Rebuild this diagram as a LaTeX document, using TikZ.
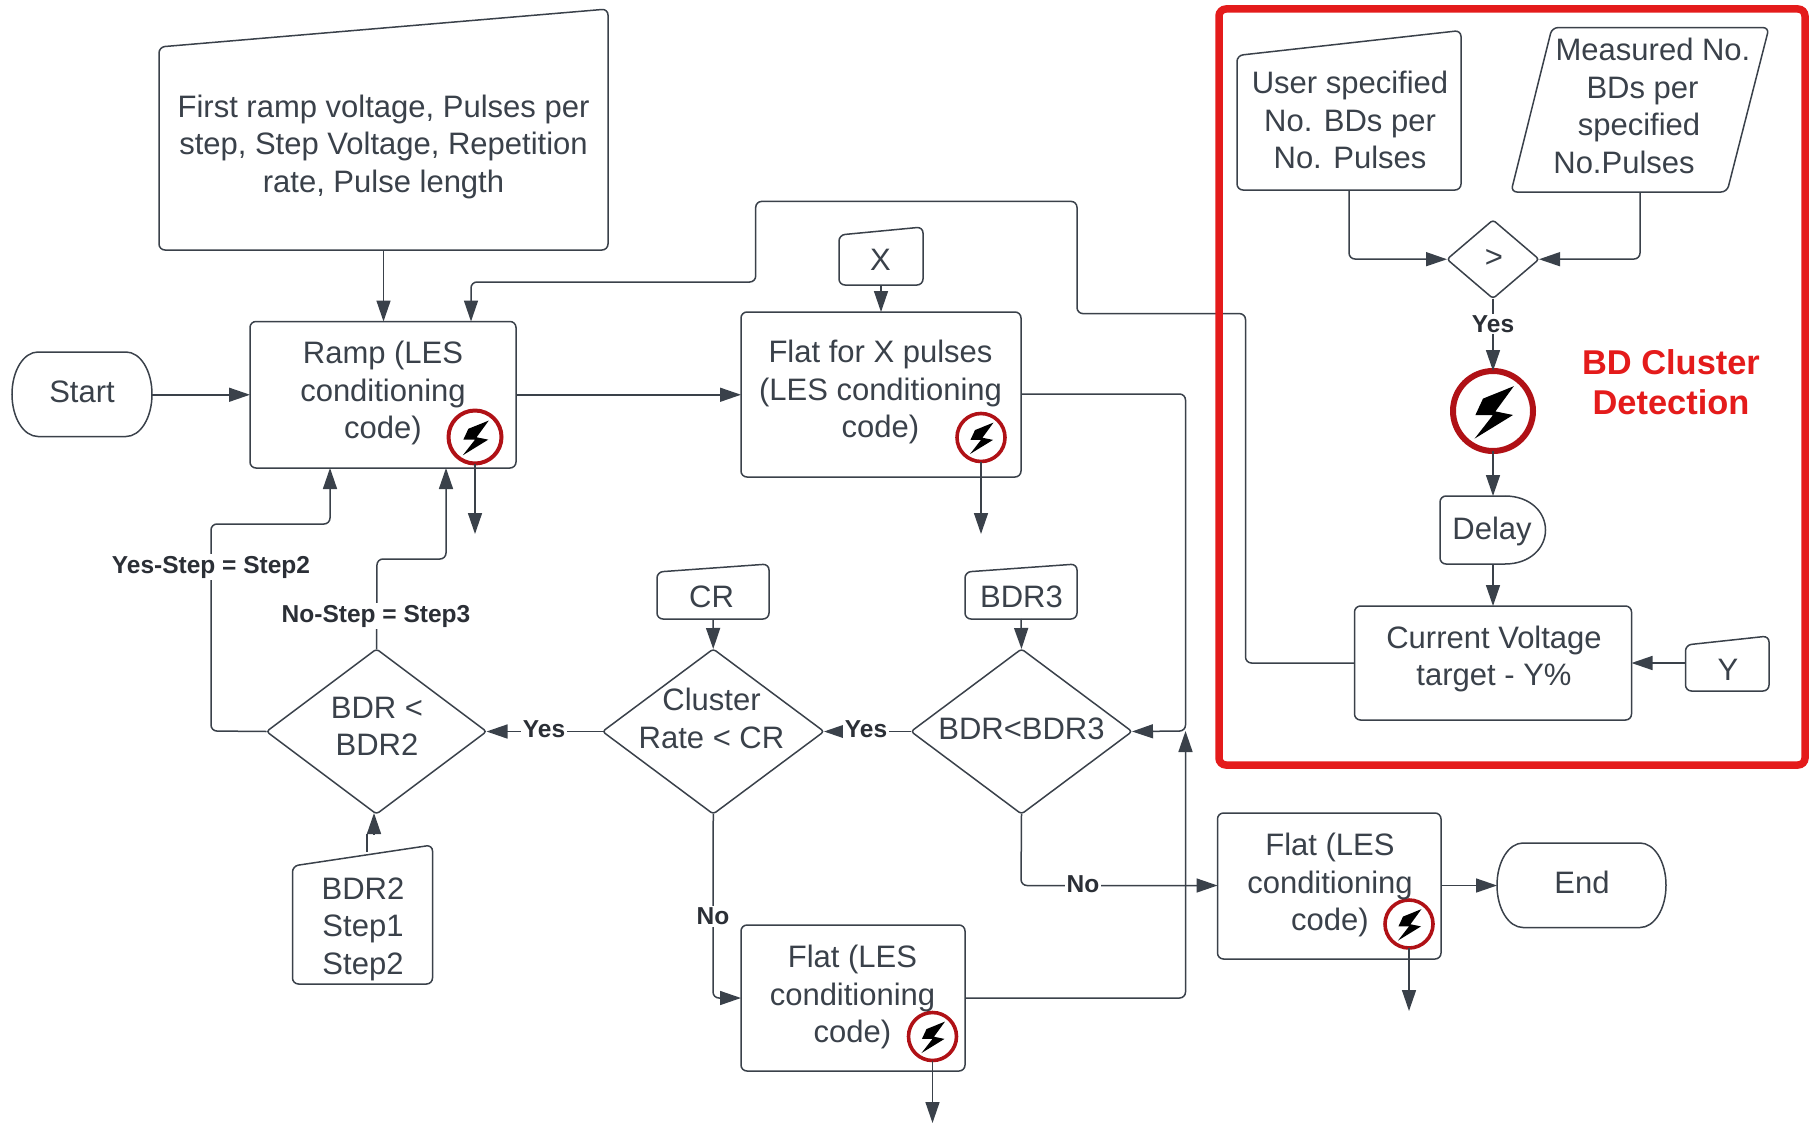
\documentclass[tikz,border=0pt]{standalone}
\usepackage{fontspec}
\setmainfont{Liberation Sans}
\usetikzlibrary{arrows.meta,calc}
\definecolor{ink}{HTML}{3A414A}
\definecolor{lab}{HTML}{2B2F36}
\definecolor{frame}{HTML}{E41B1B}
\definecolor{ringc}{HTML}{B01116}
\tikzset{
  shp/.style={draw=ink,line width=1.5pt,rounded corners=6pt,fill=white},
  conn/.style={draw=ink,line width=1.5pt,rounded corners=6pt},
  arr/.style={conn,-{Triangle[length=21pt,width=14pt]}},
  anchorbox/.style={rectangle,inner sep=0pt,outer sep=0pt},
  txt/.style={align=center,text=ink,inner sep=0pt,font=\fontsize{31}{37.5}\selectfont},
  lbl/.style={fill=white,text=lab,inner sep=1.5pt,font=\bfseries\fontsize{24.5}{29}\selectfont},
}
% name x1 y1 x2 y2 : invisible anchor box
\newcommand{\anch}[5]{%
  \pgfmathsetmacro{\axm}{(#2+#4)/2}\pgfmathsetmacro{\aym}{(#3+#5)/2}%
  \pgfmathsetmacro{\aw}{#4-#2}\pgfmathsetmacro{\ah}{#5-#3}%
  \node[anchorbox,minimum width=\aw pt,minimum height=\ah pt] (#1) at (\axm,\aym) {};}
\newcommand{\boxs}[5]{\anch{#1}{#2}{#3}{#4}{#5}\draw[shp] (#2,#3) rectangle (#4,#5);}
% name x1 yTopLeft x2 yTopRight yBottom
\newcommand{\manual}[6]{\anch{#1}{#2}{#5}{#4}{#6}%
  \draw[shp] (#2,#6) -- (#2,#3) -- (#4,#5) -- (#4,#6) -- cycle;}
\newcommand{\dia}[5]{\anch{#1}{#2}{#3}{#4}{#5}%
  \draw[shp,rounded corners=3pt] (#1.west) -- (#1.north) -- (#1.east) -- (#1.south) -- cycle;}
% terminator
\newcommand{\term}[5]{\anch{#1}{#2}{#3}{#4}{#5}%
  \pgfmathsetmacro{\tr}{26}\pgfmathsetmacro{\tm}{(#3+#5)/2}\pgfmathsetmacro{\th}{(#5-#3)*0.28}%
  \draw[draw=ink,line width=1.5pt] ({#2+\tr},#3) -- ({#4-\tr},#3)
    .. controls ({#4-\tr*0.45},#3) and (#4,{\tm-\th}) .. (#4,\tm)
    .. controls (#4,{\tm+\th}) and ({#4-\tr*0.45},#5) .. ({#4-\tr},#5)
    -- ({#2+\tr},#5)
    .. controls ({#2+\tr*0.45},#5) and (#2,{\tm+\th}) .. (#2,\tm)
    .. controls (#2,{\tm-\th}) and ({#2+\tr*0.45},#3) .. ({#2+\tr},#3) -- cycle;}
% name cx cy r
\newcommand{\bolt}[4]{%
  \pgfmathsetmacro{\bd}{2*#4}\pgfmathsetmacro{\bw}{#4*0.15}%
  \node[circle,inner sep=0pt,outer sep=0pt,minimum size=\bd pt,draw=ringc,line width=\bw pt,fill=white] (#1) at (#2,#3) {};
  \fill[black,shift={(#2,#3)},scale=#4]
    (.52,-.62) -- (-.25,-.31) -- (-.44,.1) -- (0,.1) -- (-.46,.69) -- (.5,.1) -- (.06,.01) -- cycle;}
\begin{document}
\begin{tikzpicture}[x=1pt,y=-1pt]
\useasboundingbox (0,0) rectangle (1820,1124);
\fill[white] (0,0) rectangle (1820,1124);
% shapes
\manual{input}{159}{47}{608}{9}{250}
\boxs{ramp}{250}{321.5}{516}{468}
\term{start}{12}{352}{152}{436.5}
\boxs{flatx}{741}{312}{1021}{477}
\manual{xin}{839}{235}{923}{227}{285}
\dia{bdrt}{911}{649}{1132}{814}
\manual{bdrtin}{965}{572}{1077}{564}{619}
\dia{clus}{602.5}{649}{824}{814}
\manual{crin}{657}{572}{769}{564}{619}
\dia{bdrs}{266.5}{649}{486.5}{814}
\manual{dat}{292.5}{866}{432.5}{845}{984}
\boxs{flatl}{741}{925}{965}{1071}
\boxs{flatr}{1217.5}{813}{1441}{959}
\term{endn}{1497}{843}{1666}{927.5}
\manual{user}{1237}{55.5}{1461}{30.5}{190}
\anch{meas}{1512}{27.6}{1769}{192}
\draw[shp] (1552,27.6) -- (1769,27.6) -- (1727,192) -- (1511,192) -- cycle;
\dia{cmp}{1447}{220}{1539}{298.5}
\anch{delay}{1440}{496}{1545.5}{564}
\draw[draw=ink,line width=1.5pt,rounded corners=6pt] (1505,496) -- (1440,496) -- (1440,564) -- (1505,564);
\draw[draw=ink,line width=1.5pt] (1505,564) .. controls (1530,564) and (1545.5,548) .. (1545.5,530) .. controls (1545.5,512) and (1530,496) .. (1505,496);
\boxs{cur}{1354.5}{606}{1631.5}{720}
\manual{yin}{1685.5}{645}{1769}{636}{691}
% free ends and bends
\coordinate (fb) at (471,282);
\coordinate (stepb) at (330,524);
\coordinate (stepc) at (446,559);
\coordinate (freeA) at (475,534);
\coordinate (freeB) at (981,534);
\coordinate (freeC) at (932.5,1123);
\coordinate (freeD) at (1409,1011);
\coordinate (rail) at (1185.5,731);
\coordinate (dtip) at (374,813);
% bolts
\bolt{boltA}{475}{437}{26.5}
\bolt{boltB}{981}{437.5}{24}
\bolt{boltC}{932.5}{1036.5}{24}
\bolt{boltD}{1409}{924}{24}
\bolt{boltE}{1493}{411}{40}
% connectors
\draw[arr] (start.east |- ramp.west) -- (ramp.west);
\draw[arr] (input.south) -- (input.south |- ramp.north);
\draw[arr] (ramp.east) -- (flatx.west |- ramp.east);
\draw[arr] (xin.south -| flatx.center) -- (flatx.north);
\draw[arr] (bdrtin.south) -- (bdrt.north);
\draw[arr] (crin.south) -- (clus.north);
\draw[arr] (cur.west) -- (1245.5,663) -- (1245.5,313.6) -- (1077,313.6) -- (1077,201.4) -- (755.7,201.4) -- (755.7,282) -- (fb) -- (fb |- ramp.north);
\draw[arr] (bdrs.west) -- (211,731) -- (211,524) -- (stepb) -- (stepb |- ramp.south);
\draw[arr] (bdrs.north) -- (377,559) -- (stepc) -- (stepc |- ramp.south);
\draw[arr] (boltA.south) -- (freeA);
\draw[arr] (boltB.south) -- (freeB);
\draw[arr] (boltC.south) -- (freeC);
\draw[arr] (boltD.south) -- (freeD);
\draw[arr] (flatx.east |- 0,394) -- (1185.5,394) -- (rail) -- (bdrt.east);
\draw[arr] (flatl.east |- 0,998) -- (1185.5,998) -- (rail);
\draw[arr] (bdrt.west) -- (clus.east);
\draw[arr] (clus.west) -- (bdrs.east);
\draw[conn] (367,852) -- (367,834);
\draw[arr] (374,834.5) -- (dtip);
\draw[arr] (clus.south) -- (713,998) -- (flatl.west |- 0,998);
\draw[arr] (bdrt.south) -- (1021,885.5) -- (flatr.west |- 0,885.5);
\draw[arr] (flatr.east |- 0,885.5) -- (endn.west |- 0,885.5);
\draw[arr] (user.south) -- (1349,259) -- (cmp.west);
\draw[arr] (1640,192) -- (1640,259) -- (cmp.east);
\draw[arr] (cmp.south) -- (boltE.north);
\draw[arr] (boltE.south) -- (delay.north -| boltE.south);
\draw[arr] (delay.south -| cur.north) -- (cur.north);
\draw[arr] (yin.west |- 0,663) -- (cur.east |- 0,663);
% edge labels
\node[lbl] (l1) at (211,567) {Yes-Step = Step2};
\node[lbl] (l2) at (376,616) {No-Step = Step3};
\node[lbl] (l3) at (544,729) {Yes};
\node[lbl] (l4) at (866,729) {Yes};
\node[lbl] (l5) at (713,916.5) {No};
\node[lbl] (l6) at (1083,884) {No};
\node[lbl] (l7) at (1493,324) {Yes};
% texts
\node[txt] (t1) at (383.5,146.5) {First ramp voltage, Pulses per\\step, Step Voltage, Repetition\\rate, Pulse length};
\node[txt] (t2) at (383,393) {Ramp (LES\\conditioning\\code)};
\node[txt] (t3) at (82,391.5) {Start};
\node[txt] (t4) at (880.5,392) {Flat for X pulses\\(LES conditioning\\code)};
\node[txt] (t5) at (880.5,260) {X};
\node[txt] (t6) at (711.5,597) {CR};
\node[txt] (t7) at (1021.5,597) {BDR3};
\node[txt] (t8) at (1021.5,729) {BDR<BDR3};
\node[txt] (t9) at (711.5,718.5) {Cluster\\Rate < CR};
\node[txt] (t10) at (377,726.5) {BDR <\\BDR2};
\node[txt] (t11) at (363,929) {BDR2\\Step1\\Step2};
\node[txt] (t12) at (852.5,997) {Flat (LES\\conditioning\\code)};
\node[txt] (t13) at (1330,885) {Flat (LES\\conditioning\\code)};
\node[txt] (t14) at (1582,882.5) {End};
\node[txt] (t15) at (1350,120) {User specified\\No. BDs per\\No. Pulses};
\node[txt] (t16) at (1639,106) {\hspace*{28pt}Measured No.\\\hspace*{7pt}BDs per\\specified\hspace*{9pt}\\No.Pulses\hspace*{30pt}};
\node[txt] (t17) at (1494,258) {>};
\node[txt] (t18) at (1492,531) {Delay};
\node[txt] (t19) at (1494,659) {Current Voltage\\target - Y\%};
\node[txt] (t20) at (1728,670) {Y};
\node[align=center,text=frame,inner sep=0pt,font=\bfseries\fontsize{34.4}{40.5}\selectfont] (t21) at (1671,382) {BD Cluster\\Detection};
% frame
\draw[draw=frame,line width=7.5pt,rounded corners=7pt] (1219,9) rectangle (1805,765);
\end{tikzpicture}
\end{document}
